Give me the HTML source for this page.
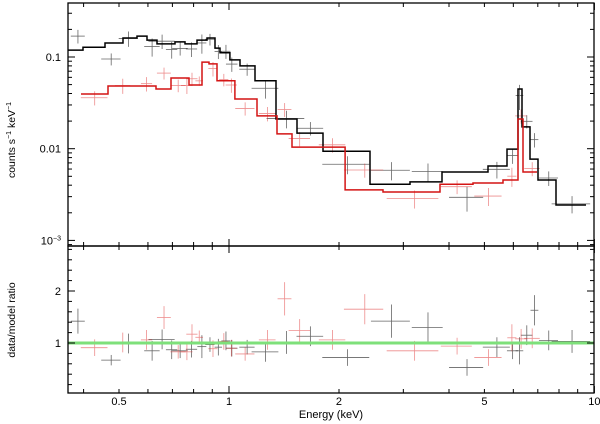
<!DOCTYPE html>
<html><head><meta charset="utf-8"><style>
body{margin:0;background:#fff}
svg{display:block;font-family:"Liberation Sans",sans-serif}
</style></head><body>
<svg id="chart" width="600" height="424" viewBox="0 0 600 424" xmlns="http://www.w3.org/2000/svg">
<g id="topPanel"></g>
<g id="botPanel"></g>
<g id="axesG"></g>
<text transform="translate(15,140) rotate(-90)" text-anchor="middle" font-size="10.5">counts s<tspan dy="-4" font-size="7">−1</tspan><tspan dy="4"> keV</tspan><tspan dy="-4" font-size="7">−1</tspan></text>
<text transform="translate(15,320) rotate(-90)" text-anchor="middle" font-size="10.5">data/model ratio</text>
<text x="331" y="418" text-anchor="middle" font-size="11">Energy (keV)</text>
</svg>
<script>
// black model: bin edges (keV) and values (counts/s/keV)
const blackEdges=[0.3626,0.3985,0.4577,0.5127,0.5600,0.5964,0.6353,0.7115,0.7578,0.8175,0.8706,0.9156,0.9449,1.006,1.072,1.178,1.345,1.535,1.808,2.432,3.128,3.828,5.114,5.766,6.178,6.338,6.666,7.010,7.851,9.485];
const blackModel=[0.119,0.128,0.142,0.161,0.169,0.153,0.139,0.146,0.139,0.153,0.161,0.125,0.111,0.093,0.080,0.055,0.0211,0.0148,0.0094,0.0041,0.00434,0.00557,0.00648,0.0099,0.0448,0.0173,0.0077,0.00456,0.00243];
const redEdges=[0.3936,0.4665,0.6313,0.6939,0.7773,0.8435,0.8817,0.9272,1.038,1.193,1.353,1.487,2.078,2.639,3.780,4.653,5.623,6.178,6.377,6.966];
const redModel=[0.0395,0.0483,0.0448,0.059,0.0495,0.088,0.084,0.055,0.0348,0.0228,0.0145,0.0104,0.00355,0.00337,0.0041,0.00423,0.00456,0.0211,0.00557];
// ratio data
const blackE=[0.386,0.476,0.531,0.616,0.656,0.697,0.735,0.790,0.843,0.887,0.935,0.981,1.018,1.121,1.259,1.437,1.670,2.110,2.786,3.504,4.481,5.410,5.973,6.237,6.531,6.855,7.50,8.686];
const blackDE=[0.017,0.029,0.032,0.030,0.054,0.025,0.036,0.028,0.024,0.026,0.022,0.028,0.037,0.054,0.106,0.17,0.14,0.31,0.34,0.34,0.48,0.46,0.21,0.15,0.24,0.17,0.45,1.05];
const blackRatio=[1.42,0.67,0.99,0.85,1.07,0.87,0.85,0.88,0.93,0.97,0.92,1.04,0.90,0.92,0.83,1.01,1.13,0.72,1.42,1.30,0.53,0.92,0.85,0.85,1.15,1.63,1.05,1.03];
const blackErr=[0.24,0.10,0.19,0.19,0.19,0.18,0.14,0.16,0.22,0.14,0.16,0.18,0.16,0.14,0.19,0.22,0.19,0.16,0.32,0.29,0.16,0.19,0.16,0.26,0.19,0.29,0.19,0.22];
const redE=[0.429,0.512,0.595,0.664,0.726,0.767,0.792,0.829,0.904,0.968,1.015,1.107,1.274,1.420,1.561,1.921,2.353,3.221,4.209,5.131,5.946,6.301,6.757];
const redDE=[0.036,0.025,0.021,0.029,0.035,0.028,0.028,0.02,0.026,0.028,0.036,0.067,0.067,0.062,0.105,0.16,0.29,0.52,0.41,0.44,0.17,0.23,0.33];
const redRatio=[0.91,1.01,1.06,1.49,0.83,0.83,1.17,1.11,0.89,1.03,0.90,0.79,1.06,1.85,1.24,1.06,1.65,0.85,0.94,0.72,1.10,1.08,1.09];
const redErr=[0.16,0.19,0.19,0.22,0.13,0.16,0.19,0.13,0.16,0.16,0.16,0.13,0.19,0.32,0.22,0.19,0.29,0.19,0.16,0.16,0.26,0.19,0.19];
const xTickLabels=["0.5","1","2","5","10"];
const xTickValues=[0.5,1,2,5,10];

const NS="http://www.w3.org/2000/svg";
const L=68,R=594,T1=3,B1=246,B2=393;
const xS=e=>229+365.4*Math.log10(e);
const y1=v=>57-91.7*(Math.log10(v)+1);
const y2=r=>343-52*(r-1);
function mk(tag,attrs,parent){const el=document.createElementNS(NS,tag);for(const k in attrs)el.setAttribute(k,attrs[k]);parent.appendChild(el);return el;}
const topG=document.getElementById('topPanel'),botG=document.getElementById('botPanel'),axesG=document.getElementById('axesG');
function modelAt(edges,vals,e){for(let i=0;i<vals.length;i++){if(e>=edges[i]&&e<edges[i+1])return vals[i];}return e<edges[0]?vals[0]:vals[vals.length-1];}
function step(edges,vals,color,name){let d='';for(let i=0;i<vals.length;i++){const yy=y1(vals[i]);d+=(i?'L':'M')+xS(edges[i]).toFixed(1)+','+yy.toFixed(1)+'L'+xS(edges[i+1]).toFixed(1)+','+yy.toFixed(1);}
 const p=mk('path',{d:d,fill:'none',stroke:color,'stroke-width':1.5},topG);
 
 }
function crosses(E,DE,Rt,Er,edges,vals,color,op,name){
 for(let i=0;i<E.length;i++){
  const m=modelAt(edges,vals,E[i]);
  const g=mk('g',{stroke:color,'stroke-width':0.8,opacity:op},topG);
  
  
  const yc=y1(m*Rt[i]);
  mk('line',{x1:xS(E[i]-DE[i]),x2:xS(E[i]+DE[i]),y1:yc,y2:yc},g);
  mk('line',{x1:xS(E[i]),x2:xS(E[i]),y1:y1(m*(Rt[i]+Er[i])),y2:y1(m*Math.max(Rt[i]-Er[i],0.05))},g);
  const h=mk('g',{stroke:color,'stroke-width':0.8,opacity:op},botG);
  
  
  mk('line',{x1:xS(E[i]-DE[i]),x2:xS(E[i]+DE[i]),y1:y2(Rt[i]),y2:y2(Rt[i])},h);
  mk('line',{x1:xS(E[i]),x2:xS(E[i]),y1:y2(Rt[i]+Er[i]),y2:y2(Rt[i]-Er[i])},h);
 }}
crosses(blackE,blackDE,blackRatio,blackErr,blackEdges,blackModel,'#000',0.6,'black-data');
crosses(redE,redDE,redRatio,redErr,redEdges,redModel,'#e03030',0.55,'red-data');
step(blackEdges,blackModel,'#000','black-model');
step(redEdges,redModel,'#d41414','red-model');
const gl=mk('line',{x1:L,x2:R,y1:y2(1),y2:y2(1),stroke:'#7ee07a','stroke-width':3},botG);


for(const [t,b,n] of [[T1,B1,'top-frame'],[B1,B2,'bottom-frame']]){
 const r=mk('rect',{x:L,y:t,width:R-L,height:b-t,fill:'none',stroke:'#000','stroke-width':1.3},axesG);
 
 }
const xt=[0.4,0.5,0.6,0.7,0.8,0.9,1,2,3,4,5,6,7,8,9,10];
for(const v of xt){const xx=xS(v),len=(v===1||v===10)?7:4;
 for(const yy of [T1,B1,B2]){
  if(yy!==T1)mk('line',{x1:xx,x2:xx,y1:yy,y2:yy-len,stroke:'#000','stroke-width':1},axesG);
  if(yy!==B2)mk('line',{x1:xx,x2:xx,y1:yy,y2:yy+len,stroke:'#000','stroke-width':1},axesG);}}
xTickValues.forEach((v,i)=>{const t=mk('text',{x:xS(v),y:405,'text-anchor':'middle','font-size':11},axesG);t.textContent=xTickLabels[i];
 
 });
for(let d=-4;d<=-1;d++){for(let k=1;k<10;k++){const v=k*Math.pow(10,d);const yy=y1(v);if(yy<T1||yy>B1)continue;const len=k===1?7:4;
 mk('line',{x1:L,x2:L+len,y1:yy,y2:yy,stroke:'#000'},axesG);mk('line',{x1:R,x2:R-len,y1:yy,y2:yy,stroke:'#000'},axesG);}}
[['0.1',0.1],['0.01',0.01]].forEach(([s,v])=>{const t=mk('text',{x:61,y:y1(v)+4,'text-anchor':'end','font-size':11},axesG);t.textContent=s;
 
 });
const e3=mk('text',{x:61,y:y1(0.001)+4,'text-anchor':'end','font-size':11},axesG);


e3.innerHTML='10<tspan dy="-4" font-size="7">−3</tspan>';
for(let r=0.2;r<2.9;r+=0.2){const yy=y2(r);const major=Math.abs(r-1)<0.01||Math.abs(r-2)<0.01;const len=major?7:4;
 mk('line',{x1:L,x2:L+len,y1:yy,y2:yy,stroke:'#000'},axesG);mk('line',{x1:R,x2:R-len,y1:yy,y2:yy,stroke:'#000'},axesG);}
[['1',1],['2',2]].forEach(([s,v])=>{const t=mk('text',{x:61,y:y2(v)+4,'text-anchor':'end','font-size':11},axesG);t.textContent=s;
 
 });
</script>
</body></html>
